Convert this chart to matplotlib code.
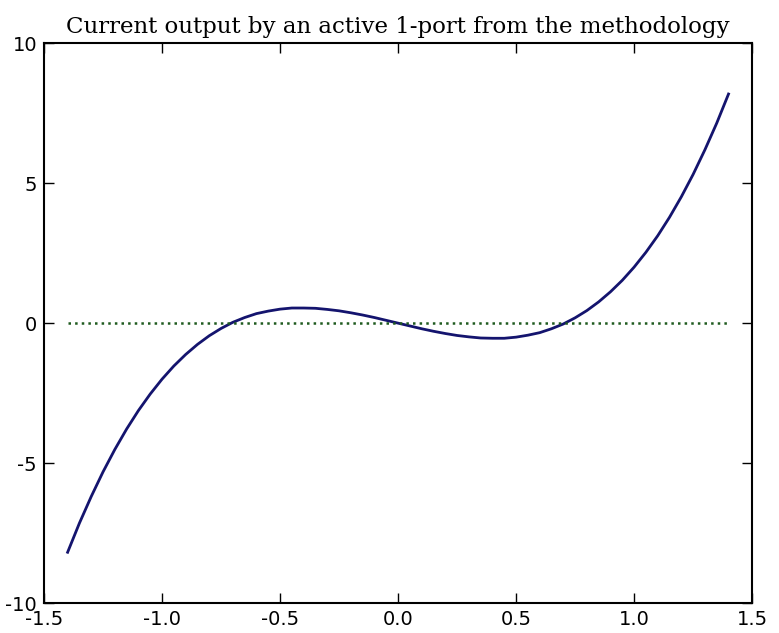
import matplotlib
matplotlib.use("Agg")
import matplotlib.pyplot as plt

# current output, every 0.05
x_vals = [-1.4, -1.35, -1.3, -1.25, -1.2, -1.15, -1.1, -1.05, -1.0, -0.95, -0.9, -0.85,
          -0.8, -0.75, -0.7, -0.65, -0.6, -0.55, -0.5, -0.45, -0.4, -0.35, -0.3, -0.25,
          -0.2, -0.15, -0.1, -0.05, 0.0, 0.05, 0.1, 0.15, 0.2, 0.25, 0.3, 0.35, 0.4,
          0.45, 0.5, 0.55, 0.6, 0.65, 0.7, 0.75, 0.8, 0.85, 0.9, 0.95, 1.0, 1.05, 1.1,
          1.15, 1.2, 1.25, 1.3, 1.35, 1.4]
current = [-8.18, -7.14, -6.19, -5.31, -4.51, -3.78, -3.12, -2.53, -2.0, -1.53, -1.12, -0.76,
           -0.45, -0.19, 0.03, 0.2, 0.34, 0.43, 0.5, 0.54, 0.54, 0.53, 0.49, 0.44,
           0.37, 0.29, 0.2, 0.1, 0.0, -0.1, -0.2, -0.29, -0.37, -0.44, -0.49, -0.53, -0.54,
           -0.54, -0.5, -0.43, -0.34, -0.2, -0.03, 0.19, 0.45, 0.76, 1.12, 1.53, 2.0, 2.53, 3.12,
           3.78, 4.51, 5.31, 6.19, 7.14, 8.18]
zero_x = [-1.4, 1.4]
zero_y = [0, 0]

x_ticks = [-1.5, -1.0, -0.5, 0.0, 0.5, 1.0, 1.5]
x_labels = ['-1.5', '-1.0', '-0.5', '0.0', '0.5', '1.0', '1.5']
y_ticks = [-10, -5, 0, 5, 10]
y_labels = ['-10', '-5', '0', '5', '10']

fig = plt.figure(figsize=(7.79, 6.33), dpi=100)
ax = fig.add_axes([0.0565, 0.047, 0.909, 0.885])

ax.plot(x_vals, current, color='#14146e', linewidth=2)
ax.plot(zero_x, zero_y, color='#1f5a1f', linestyle=':', linewidth=1.8)

ax.set_xlim(-1.5, 1.5)
ax.set_ylim(-10, 10)
ax.set_xticks(x_ticks)
ax.set_xticklabels(x_labels)
ax.set_yticks(y_ticks)
ax.set_yticklabels(y_labels)
ax.tick_params(direction='in', length=7, width=1, top=True, right=True, labelsize=14, pad=5)
for s in ax.spines.values():
    s.set_linewidth(1.5)

ax.set_title("Current output by an active 1-port from the methodology",
             family='DejaVu Serif', fontsize=16.5, pad=7)

fig.savefig("out.png", dpi=100)
